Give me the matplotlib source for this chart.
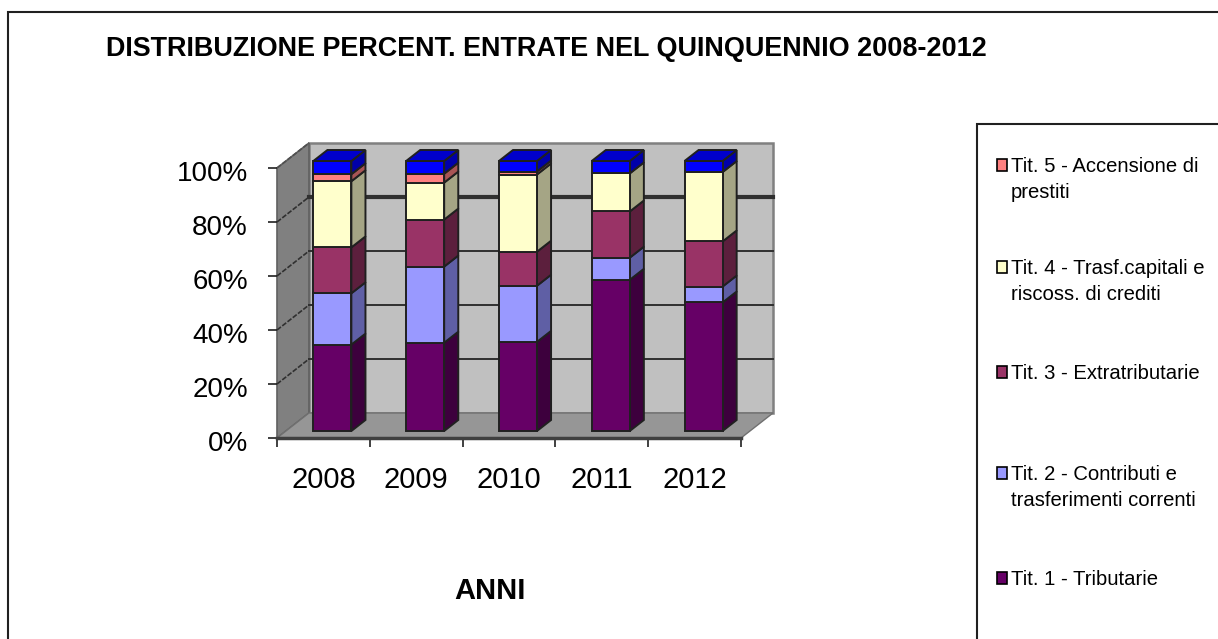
import matplotlib
matplotlib.use("Agg")
import matplotlib.pyplot as plt
from matplotlib.patches import Polygon, Rectangle
from matplotlib.transforms import ScaledTranslation

plt.rcParams['font.family'] = ['Liberation Sans', 'DejaVu Sans']

anni = ["2008", "2009", "2010", "2011", "2012"]
# percentuali, dal basso verso l'alto
tit1 = [32.0, 32.7, 33.0, 56.0, 47.6]
tit2 = [19.0, 28.2, 20.8, 8.2, 5.9]
tit3 = [17.0, 17.4, 12.6, 17.1, 16.7]
tit4 = [24.5, 13.7, 28.6, 14.1, 25.7]
tit5 = [2.6, 3.3, 1.1, 0.0, 0.0]
altro = [4.9, 4.7, 3.9, 4.6, 4.1]

serie = [tit1, tit2, tit3, tit4, tit5, altro]
fronte = ["#660066", "#9999FF", "#993366", "#FFFFCC", "#FF8080", "#0000FF"]
lato = ["#3D003D", "#5F5FA5", "#5C1F3D", "#A5A585", "#A85555", "#0000AA"]
legenda = ["Tit. 5 - Accensione di\nprestiti",
           "Tit. 4 - Trasf.capitali e\nriscoss. di crediti",
           "Tit. 3 - Extratributarie",
           "Tit. 2 - Contributi e\ntrasferimenti correnti",
           "Tit. 1 - Tributarie"]
colori_leg = ["#FF8080", "#FFFFCC", "#993366", "#9999FF", "#660066"]
y_leg = [165, 267, 372, 473, 578]

W, H = 1218, 639
fig = plt.figure(figsize=(W / 100, H / 100), dpi=100)

# cornice esterna e cornice della legenda (in pixel)
fig.add_artist(Rectangle((8 / W, -0.01), 1.1, 1 - 12 / H + 0.01, transform=fig.transFigure,
                         fc="white", ec="#202020", lw=1.5, zorder=-2))
fig.add_artist(Rectangle((977 / W, -0.01), 0.2, 1 - 124 / H + 0.01, transform=fig.transFigure,
                         fc="white", ec="#202020", lw=1.5, zorder=-1))

# piano frontale: x 277-741, y 438-168
ax = fig.add_axes([277 / W, 1 - 438 / H, 464 / W, 270 / H], zorder=1)
ax.set_xlim(0, 5)
ax.set_ylim(0, 100)
ax.patch.set_visible(False)
for s in ["top", "right", "left"]:
    ax.spines[s].set_visible(False)
ax.spines["bottom"].set_color("#404040")
ax.spines["bottom"].set_linewidth(2.5)
ax.spines["bottom"].set_zorder(2.5)

DX = 32 / 92.8   # profondita in unita di categoria
DY = 25 / 2.7    # profondita in punti percentuali


def p(x, y, d):
    return (x + d * DX, y + d * DY)


def poly(punti, fc, ec="#303030", lw=1.0, z=2):
    ax.add_patch(Polygon(punti, closed=True, fc=fc, ec=ec, lw=lw, zorder=z, clip_on=False))


# pareti
poly([p(0, 0, 1), p(5, 0, 1), p(5, 100, 1), p(0, 100, 1)], "#C0C0C0", "#808080", 1.8, 1)
poly([p(0, 0, 0), p(0, 0, 1), p(0, 100, 1), p(0, 100, 0)], "#808080", "#606060", 1.2, 1)
poly([p(0, 0, 0), p(5, 0, 0), p(5, 0, 1), p(0, 0, 1)], "#969696", "#707070", 1.0, 1)

# griglia: sul fianco sinistro sempre sottile, sul fondo la riga dell'80% e piu spessa
for v in [20, 40, 60, 80]:
    lw = 3.0 if v == 80 else 1.4
    ax.plot(*zip(p(0, v, 1), p(5, v, 1)), color="#303030", lw=lw, zorder=1.5, clip_on=False)
    ax.plot(*zip(p(0, v, 0), p(0, v, 1)), color="#303030", lw=1.2, ls=(0, (3, 1)), zorder=1.5, clip_on=False)
ax.plot(*zip(p(0, 100, 0), p(0, 100, 1)), color="#505050", lw=1.2, ls=(0, (3, 1)), zorder=1.5, clip_on=False)

# barre
larg = 0.41
d0, d1 = 0.28, 0.72
for i in range(len(anni)):
    x0 = i + 0.5 - larg / 2
    x1 = x0 + larg
    base = 0
    for j, valori in enumerate(serie):
        v = valori[i]
        if v == 0:
            continue
        top = base + v
        poly([p(x1, base, d0), p(x1, base, d1), p(x1, top, d1), p(x1, top, d0)], lato[j], "#202020", 1.4, 3)
        poly([p(x0, base, d0), p(x1, base, d0), p(x1, top, d0), p(x0, top, d0)], fronte[j], "#202020", 1.4, 4)
        base = top
    poly([p(x0, base, d0), p(x1, base, d0), p(x1, base, d1), p(x0, base, d1)], "#0000CC", "#202020", 1.4, 4)

ax.set_xticks(range(6))
ax.set_xticklabels([])
ax.set_yticks([0, 20, 40, 60, 80, 100])
ax.set_yticklabels(["0%", "20%", "40%", "60%", "80%", "100%"], fontsize=20)
ax.tick_params(axis="both", length=6.5, width=1.2, color="#202020")
ax.tick_params(axis="y", pad=14.4)
for lab in ax.get_yticklabels():
    lab.set_transform(lab.get_transform() + ScaledTranslation(0, -2 / 72, fig.dpi_scale_trans))
for i, a in enumerate(anni):
    ax.text(i + 0.5, -10.5, a, ha="center", va="top", fontsize=21)

fig.text(106 / W, 1 - 49 / H, "DISTRIBUZIONE PERCENT. ENTRATE NEL QUINQUENNIO 2008-2012",
         fontsize=19.45, fontweight="bold", ha="left", va="center")
fig.text(490 / W, 1 - 591 / H, "ANNI", fontsize=21, fontweight="bold", ha="center", va="center")

# legenda
for testo, col, y in zip(legenda, colori_leg, y_leg):
    fig.add_artist(Rectangle((996.5 / W, 1 - (y + 6) / H), 10 / W, 12 / H, transform=fig.transFigure,
                             fc=col, ec="black", lw=1.2, zorder=3))
    fig.text(1011 / W, 1 - (y - 8) / H, testo, fontsize=14.6, ha="left", va="top", linespacing=1.45)

fig.savefig("out.png", dpi=100)
